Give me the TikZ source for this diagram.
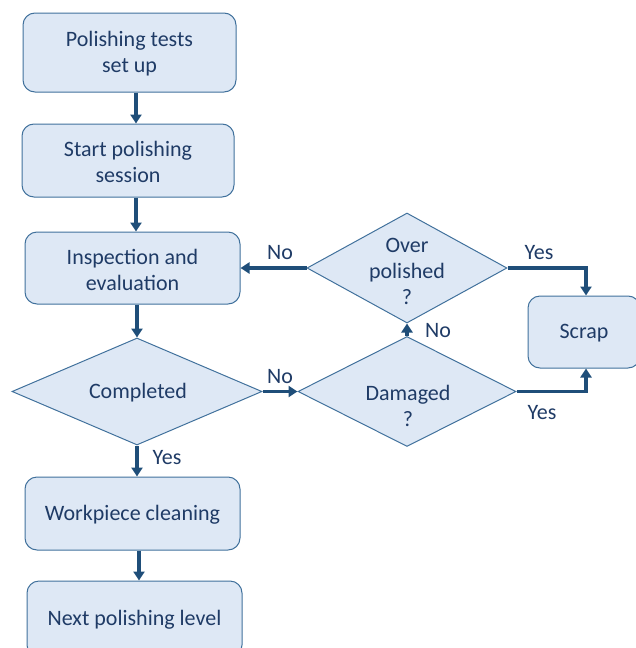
\documentclass[tikz,border=0pt]{standalone}
\usepackage{fontspec}
\setmainfont{Carlito}
\usetikzlibrary{shapes.geometric,arrows.meta}
\definecolor{boxfill}{HTML}{DEE8F5}
\definecolor{boxline}{HTML}{41719C}
\definecolor{txt}{HTML}{1F3B66}
\definecolor{arrowc}{HTML}{1F4E79}
\tikzset{
  stepbox/.style={draw=boxline, fill=boxfill, line width=1pt, rounded corners=12pt,
    align=center, text=txt, inner sep=0pt},
  decision/.style={draw=boxline, fill=boxfill, line width=1pt, diamond,
    align=center, text=txt, inner sep=0pt, text width=1pt},
  flow/.style={draw=arrowc, line width=3.4pt, -{Triangle[length=9pt,width=11pt]}},
  tag/.style={text=txt, inner sep=0pt},
}
\begin{document}
\begin{tikzpicture}[x=1pt,y=-1pt,font=\fontsize{22}{26}\selectfont]
\useasboundingbox (0,0) rectangle (635,648);

% vertical guide lines for the main flow arrows
\coordinate (g1) at (136,0);
\coordinate (g2) at (139,0);
\coordinate (g3) at (586,0);

% process steps
\node[stepbox, minimum width=213pt, minimum height=79pt] (setup) at (129.5,52.5) {};
\node[tag, align=center] (setuptext) at (129.5,54) {Polishing tests\\set up};
\node[stepbox, minimum width=212pt, minimum height=73pt] (start) at (128,160.5) {};
\node[tag, align=center] (starttext) at (128,162) {Start polishing\\session};
\node[stepbox, minimum width=215pt, minimum height=72pt] (inspect) at (132.5,268) {};
\node[tag, align=center] (inspecttext) at (132.5,269.5) {Inspection and\\evaluation};
\node[stepbox, minimum width=215pt, minimum height=73pt] (clean) at (132.5,513.5) {};
\node[tag] (cleantext) at (132.5,515) {Workpiece cleaning};
\node[stepbox, minimum width=215pt, minimum height=76pt] (next) at (134.5,619) {};
\node[tag] (nexttext) at (134.5,619.5) {Next polishing level};
\node[stepbox, minimum width=112pt, minimum height=72pt] (scrap) at (584,332) {};
\node[tag] (scraptext) at (584,333.5) {Scrap};

% decisions
\node[decision, minimum width=250pt, minimum height=107pt] (done) at (137,391.5) {};
\node[tag] (donetext) at (138,392.5) {Completed};
\node[decision, minimum width=218pt, minimum height=110pt] (damaged) at (407,391.5) {};
\node[tag, align=center] (damagedtext) at (408,406) {Damaged\\?};
\node[decision, minimum width=200pt, minimum height=110pt] (over) at (407,268) {};
\node[tag, align=center] (overtext) at (407,271) {Over\\polished\\?};

% main flow
\draw[flow] (setup.south -| g1) -- (start.north -| g1);
\draw[flow] (start.south -| g1) -- (inspect.north -| g1);
\draw[flow] (inspect.south -| done.north) -- (done.north);
\draw[flow] (done.south) -- (clean.north -| done.south);
\draw[flow] (clean.south -| g2) -- (next.north -| g2);

% branches
\draw[flow] (done.east) -- (damaged.west);
\draw[flow] (damaged.north) -- (over.south);
\draw[flow] (over.west) -- (inspect.east);
\draw[flow] (over.east) -| (scrap.north -| g3);
\draw[flow] (damaged.east) -| (scrap.south -| g3);

% branch labels
\node[tag] (lyes1) at (167,458) {Yes};
\node[tag] (lno1) at (280,377) {No};
\node[tag] (lno2) at (438,331) {No};
\node[tag] (lno3) at (280,253) {No};
\node[tag] (lyes2) at (539,253) {Yes};
\node[tag] (lyes3) at (542,413) {Yes};
\end{tikzpicture}
\end{document}
